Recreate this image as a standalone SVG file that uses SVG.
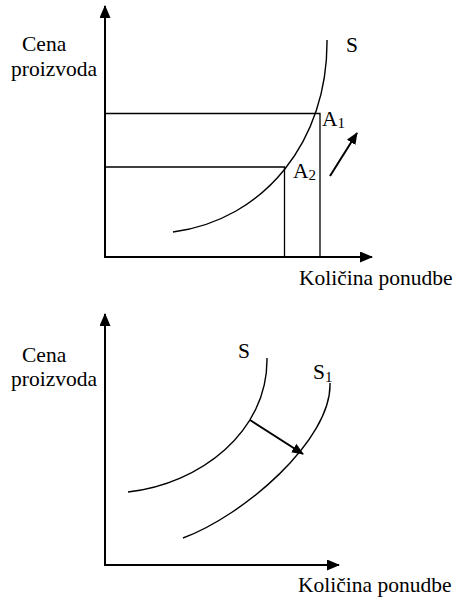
<svg xmlns="http://www.w3.org/2000/svg" width="456" height="597" viewBox="0 0 456 597">
<style>
  .axis{stroke:#000;stroke-width:2;fill:none}
  .ln{stroke:#000;stroke-width:1.3;fill:none}
  .crv{stroke:#000;stroke-width:1.4;fill:none}
  .ar{stroke:#000;stroke-width:2;fill:none}
  .t{font-size:21.5px;fill:#000}
  .sub{font-size:15px}
</style>
<defs>
  <marker id="ah" viewBox="0 0 12 10" refX="11" refY="5" markerWidth="12" markerHeight="10" markerUnits="userSpaceOnUse" orient="auto">
    <path d="M0,0 L12,5 L0,10 Z" fill="#000"/>
  </marker>
  <marker id="axh" viewBox="0 0 13 11" refX="12" refY="5.5" markerWidth="13" markerHeight="11" markerUnits="userSpaceOnUse" orient="auto">
    <path d="M0,0 L13,5.5 L0,11 Z" fill="#000"/>
  </marker>
</defs>

<g id="chart-top">
  <g id="axes-top">
    <line class="axis" x1="105" y1="258" x2="105" y2="6" marker-end="url(#axh)"/>
    <line class="axis" x1="104" y1="257" x2="372" y2="257" marker-end="url(#axh)"/>
  </g>
  <g id="guides-top">
    <polyline class="ln" points="105,113.5 320,113.5 320,257"/>
    <polyline class="ln" points="105,167 284.5,167 284.5,257"/>
  </g>
  <g id="curve-S-top">
    <path class="crv" d="M173,232 C265,220 328,140 327,40"/>
  </g>
  <g id="labels-top" font-family="Liberation Serif, Times New Roman, DejaVu Serif, serif">
    <text class="t" x="22" y="51">Cena</text>
    <text class="t" x="11" y="75.5">proizvoda</text>
    <text class="t" x="299" y="285">Količina ponudbe</text>
    <text class="t" x="346" y="52">S</text>
    <text class="t" x="322" y="126">A<tspan class="sub" dy="2">1</tspan></text>
    <text class="t" x="293" y="178">A<tspan class="sub" dy="2">2</tspan></text>
  </g>
  <g id="connectors-top">
    <line class="ar" x1="330" y1="176" x2="357" y2="133" marker-end="url(#ah)"/>
  </g>
</g>

<g id="chart-bottom">
  <g id="axes-bottom">
    <line class="axis" x1="105" y1="566" x2="105" y2="314" marker-end="url(#axh)"/>
    <line class="axis" x1="104" y1="565" x2="339" y2="565" marker-end="url(#axh)"/>
  </g>
  <g id="curve-S-bottom">
    <path class="crv" d="M128,492 C200,484 268,432 267,358"/>
  </g>
  <g id="curve-S1-bottom">
    <path class="crv" d="M183,538 C243,516 332,440 330,383"/>
  </g>
  <g id="labels-bottom" font-family="Liberation Serif, Times New Roman, DejaVu Serif, serif">
    <text class="t" x="22" y="362">Cena</text>
    <text class="t" x="11" y="385.5">proizvoda</text>
    <text class="t" x="238" y="358">S</text>
    <text class="t" x="313" y="379">S<tspan class="sub" dy="3">1</tspan></text>
    <text class="t" x="298" y="592">Količina ponudbe</text>
  </g>
  <g id="connectors-bottom">
    <line class="ar" x1="250" y1="420" x2="303" y2="454" marker-end="url(#ah)"/>
  </g>
</g>
</svg>
